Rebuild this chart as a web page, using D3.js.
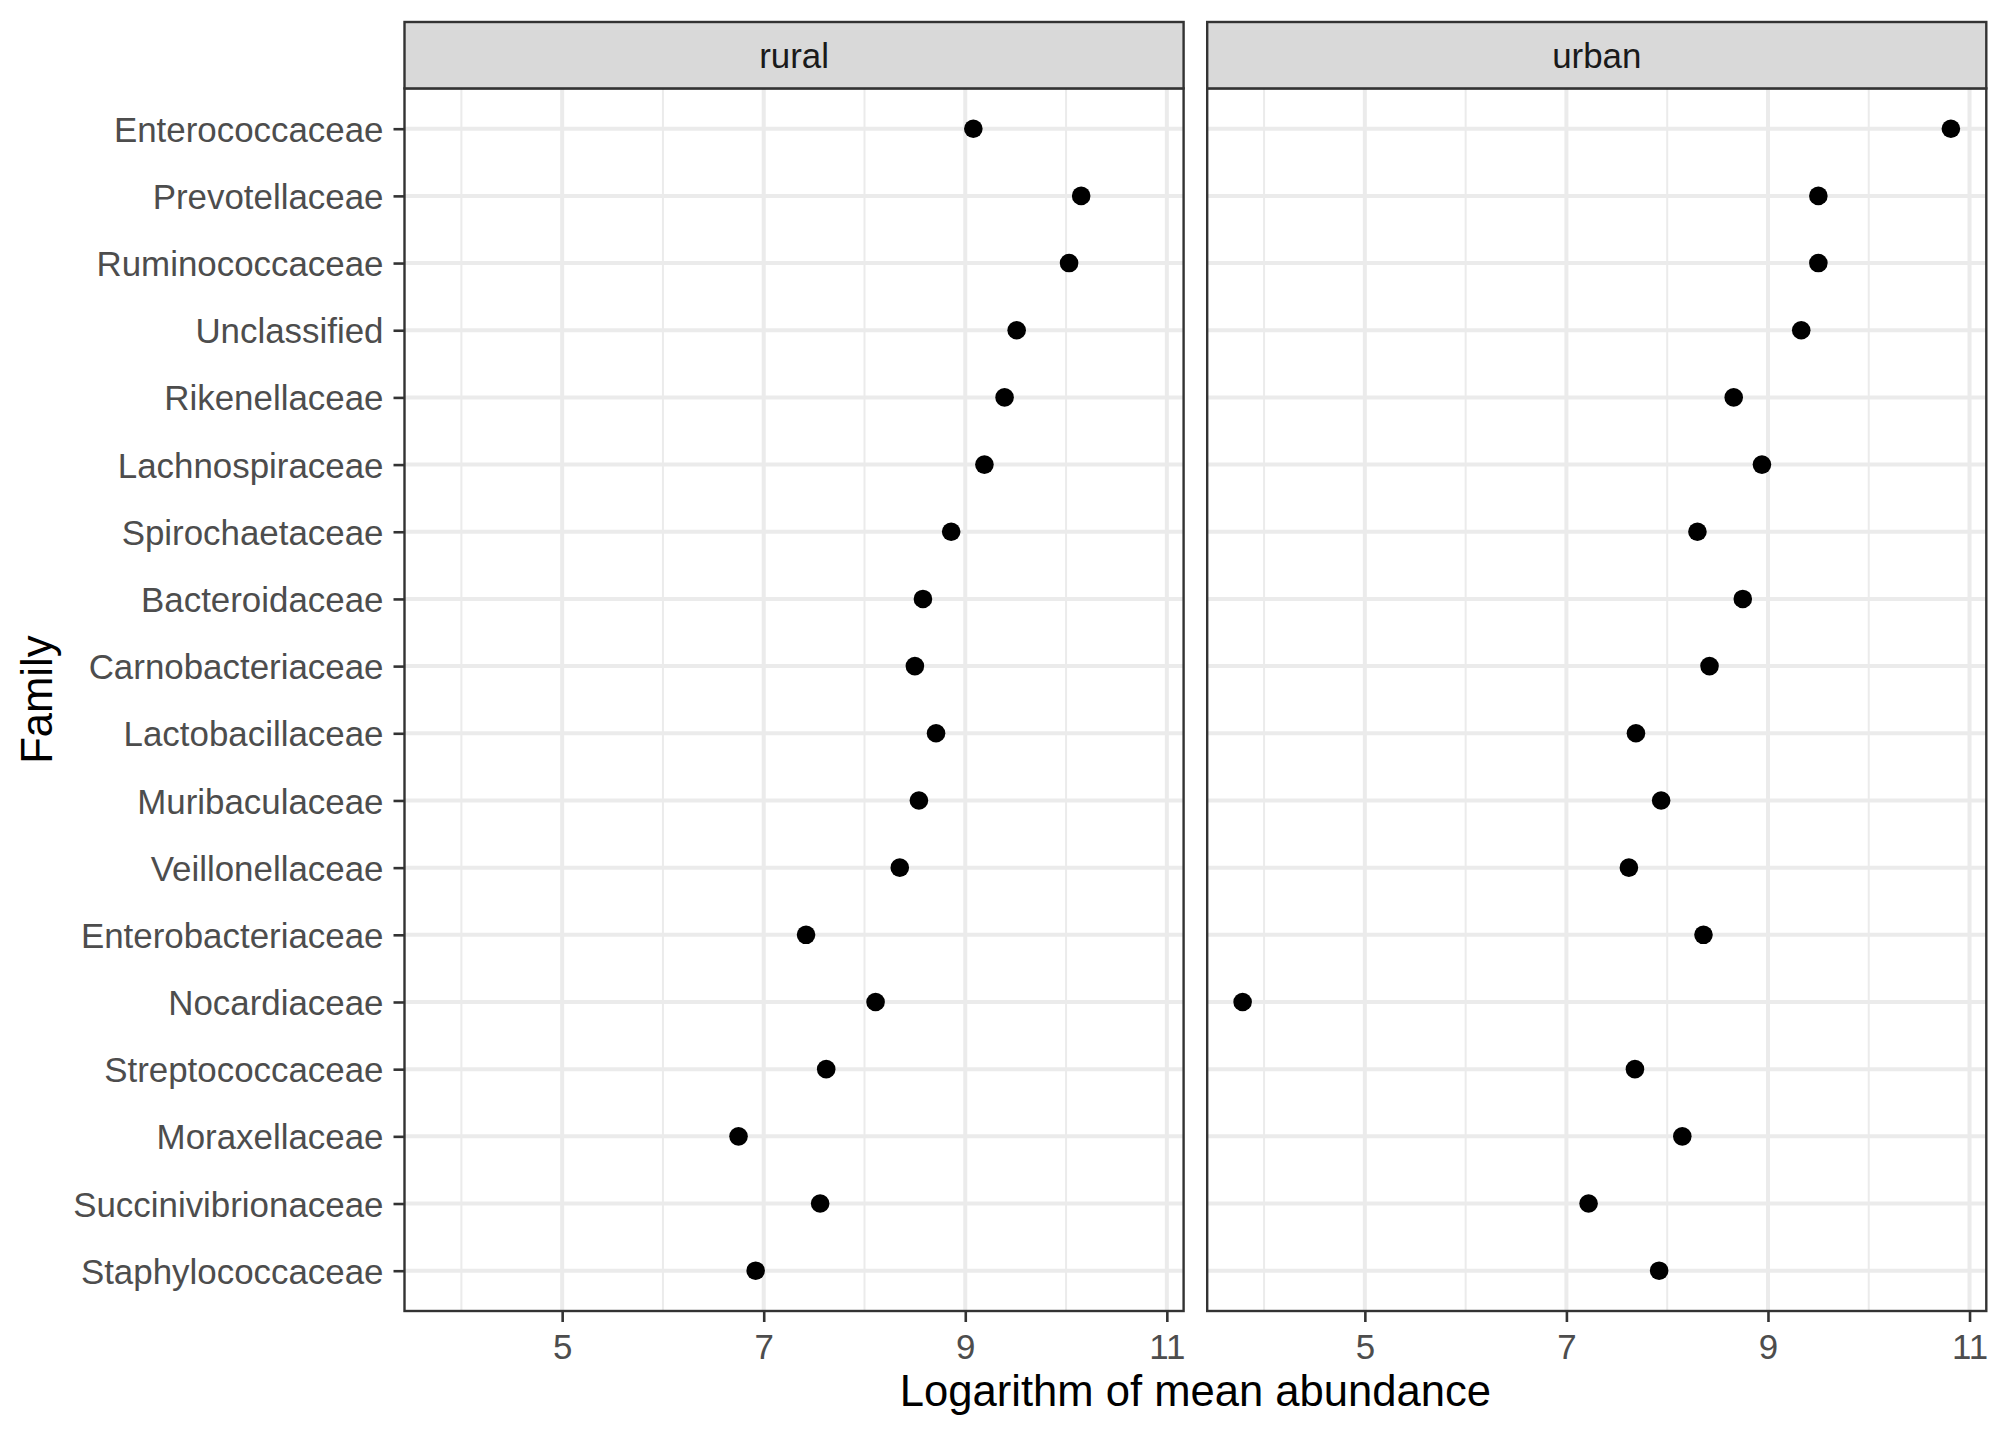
<!DOCTYPE html>
<html>
<head>
<meta charset="utf-8">
<script src="https://cdn.jsdelivr.net/npm/d3@7"></script>
<style>
  html, body { margin: 0; padding: 0; background: #ffffff; }
  svg { display: block; }
  text { font-family: "Liberation Sans", Arial, sans-serif; }
</style>
</head>
<body>
<svg id="chart" width="2008" height="1435"></svg>
<script>
// ---------------- data ----------------
const families = [
  "Enterococcaceae", "Prevotellaceae", "Ruminococcaceae", "Unclassified",
  "Rikenellaceae", "Lachnospiraceae", "Spirochaetaceae", "Bacteroidaceae",
  "Carnobacteriaceae", "Lactobacillaceae", "Muribaculaceae", "Veillonellaceae",
  "Enterobacteriaceae", "Nocardiaceae", "Streptococcaceae", "Moraxellaceae",
  "Succinivibrionaceae", "Staphylococcaceae"
];
const panels = ["rural", "urban"];
const ruralValues = [9.08, 10.15, 10.03, 9.51, 9.39, 9.19, 8.86, 8.58, 8.50, 8.71, 8.54, 8.35, 7.42, 8.11, 7.62, 6.75, 7.56, 6.92];
const urbanValues = [10.815, 9.50, 9.50, 9.33, 8.66, 8.94, 8.30, 8.75, 8.42, 7.69, 7.94, 7.62, 8.36, 3.787, 7.68, 8.15, 7.22, 7.92];
const xTicks = [5, 7, 9, 11];
const xMinor = [4, 6, 8, 10];
const xTitle = "Logarithm of mean abundance";
const yTitle = "Family";

// ---------------- layout ----------------
const svg = d3.select("#chart");
const panelLefts = [404.5, 1207.2];
const panelW = 779.1;
const stripTop = 22;
const panelTop = 88.4;
const panelBottom = 1311;

const allVals = ruralValues.concat(urbanValues);
const [mn, mx] = d3.extent(allVals);
const pad = (mx - mn) * 0.05;

const y = d3.scalePoint().domain(families).range([panelTop, panelBottom]).padding(0.6);

const seriesByPanel = { rural: ruralValues, urban: urbanValues };

panels.forEach((p, i) => {
  const x0 = panelLefts[i];
  const x = d3.scaleLinear().domain([mn - pad, mx + pad]).range([x0, x0 + panelW]);
  const g = svg.append("g");

  // panel background
  g.append("rect").attr("x", x0).attr("y", panelTop).attr("width", panelW).attr("height", panelBottom - panelTop).attr("fill", "#ffffff");

  // minor grid
  g.selectAll(".minor").data(xMinor).enter().append("line")
    .attr("x1", d => x(d)).attr("x2", d => x(d))
    .attr("y1", panelTop).attr("y2", panelBottom)
    .attr("stroke", "#EBEBEB").attr("stroke-width", 2);
  // major grid vertical
  g.selectAll(".majorx").data(xTicks).enter().append("line")
    .attr("x1", d => x(d)).attr("x2", d => x(d))
    .attr("y1", panelTop).attr("y2", panelBottom)
    .attr("stroke", "#EBEBEB").attr("stroke-width", 4);
  // major grid horizontal
  g.selectAll(".majory").data(families).enter().append("line")
    .attr("x1", x0).attr("x2", x0 + panelW)
    .attr("y1", d => y(d)).attr("y2", d => y(d))
    .attr("stroke", "#EBEBEB").attr("stroke-width", 4);

  // points
  const vals = seriesByPanel[p];
  g.selectAll(".pt").data(families).enter().append("circle")
    .attr("cx", (d, k) => x(vals[k]))
    .attr("cy", d => y(d))
    .attr("r", 9.3)
    .attr("fill", "#000000");

  // panel border
  g.append("rect").attr("x", x0).attr("y", panelTop).attr("width", panelW).attr("height", panelBottom - panelTop)
    .attr("fill", "none").attr("stroke", "#333333").attr("stroke-width", 2.4);

  // strip
  g.append("rect").attr("x", x0).attr("y", stripTop).attr("width", panelW).attr("height", panelTop - stripTop)
    .attr("fill", "#D9D9D9").attr("stroke", "#333333").attr("stroke-width", 2.4);
  g.append("text").attr("x", x0 + panelW / 2).attr("y", 68)
    .attr("text-anchor", "middle").attr("font-size", 34.9).attr("fill", "#1A1A1A").text(p);

  // x axis
  const xAxis = d3.axisBottom(x).tickValues(xTicks).tickSize(11).tickPadding(0).tickFormat(d3.format("d"));
  const ax = g.append("g").attr("transform", `translate(0,${panelBottom})`).call(xAxis);
  ax.select(".domain").remove();
  ax.selectAll(".tick line").attr("stroke", "#333333").attr("stroke-width", 2.6);
  ax.selectAll(".tick text").attr("font-size", 34.9).attr("fill", "#4D4D4D")
    .attr("font-family", "'Liberation Sans', Arial, sans-serif")
    .attr("dy", null).attr("y", 47.5);

  // y axis only on first panel
  if (i === 0) {
    const yAxis = d3.axisLeft(y).tickSize(11).tickPadding(10);
    const ay = g.append("g").attr("transform", `translate(${x0},0)`).call(yAxis);
    ay.select(".domain").remove();
    ay.selectAll(".tick line").attr("stroke", "#333333").attr("stroke-width", 2.6);
    ay.selectAll(".tick text").attr("font-size", 34.9).attr("fill", "#4D4D4D")
      .attr("font-family", "'Liberation Sans', Arial, sans-serif")
      .attr("dy", "0.36em");
  }
});

// axis titles
svg.append("text").attr("x", (panelLefts[0] + panelLefts[1] + panelW) / 2).attr("y", 1406)
  .attr("text-anchor", "middle").attr("font-size", 43.6).attr("fill", "#000000").text(xTitle);
svg.append("text").attr("transform", `translate(52,${(panelTop + panelBottom) / 2}) rotate(-90)`)
  .attr("text-anchor", "middle").attr("font-size", 43.6).attr("fill", "#000000").text(yTitle);
</script>
</body>
</html>
